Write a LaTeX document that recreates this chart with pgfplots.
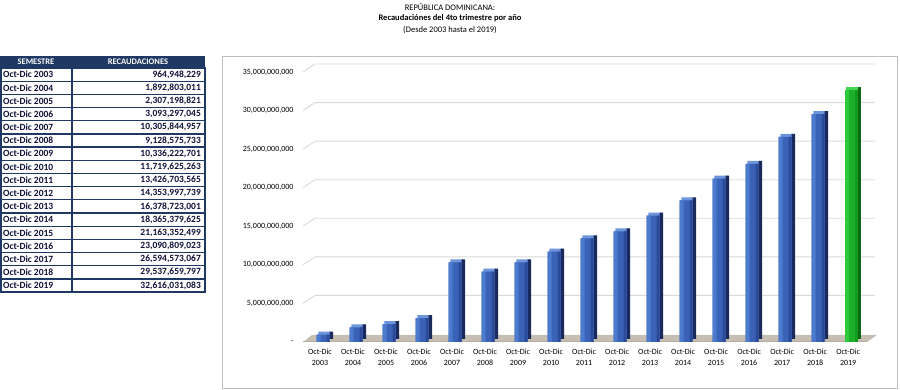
\documentclass[border=0pt]{standalone}
\usepackage{pgfplots}
\pgfplotsset{compat=1.18}
\usepackage{fontspec}
\setmainfont{Carlito}
\definecolor{navy}{HTML}{1F3864}
\definecolor{tabtxt}{HTML}{101038}
\definecolor{gridc}{HTML}{D9D9D9}
\definecolor{framec}{HTML}{BFBFBF}
\definecolor{bl}{HTML}{4C7BCE}
\definecolor{bm}{HTML}{3A63B8}
\definecolor{br}{HTML}{2B4A98}
\definecolor{bside}{HTML}{1B2A5C}
\definecolor{btop}{HTML}{6E94DC}
\definecolor{gl}{HTML}{2DC83C}
\definecolor{gm}{HTML}{1BB02A}
\definecolor{gr}{HTML}{139A20}
\definecolor{gside}{HTML}{0B6A12}
\definecolor{gtop}{HTML}{45D555}
\definecolor{floorl}{HTML}{B8AEA0}
\definecolor{floorr}{HTML}{D2CBC2}
\newcommand\trow[3]{%
  \pgfmathsetmacro\yt{322-(#1-1)*13.18}%
  \pgfmathsetmacro\yb{\yt-13.18}%
  \pgfmathsetmacro\ym{\yt-6.59}%
  \draw[navy, line width=1.3pt] (1pt,\yb pt) rectangle (72pt,\yt pt);
  \draw[navy, line width=1.3pt] (72pt,\yb pt) rectangle (205pt,\yt pt);
  \node[anchor=west, font=\fontsize{9.5}{11}\selectfont\bfseries, text=tabtxt, inner sep=0pt] at (3pt,\ym pt) {Oct-Dic #2};
  \node[anchor=east, font=\fontsize{9.5}{11}\selectfont\bfseries, text=tabtxt, inner sep=0pt] at (201pt,\ym pt) {#3};
}
\pgfplotstableread{
x y
0 964948229
1 1892803011
2 2307198821
3 3093297045
4 10305844957
5 9128575733
6 10336222701
7 11719625263
8 13426703565
9 14353997739
10 16378723001
11 18365379625
12 21163352499
13 23090809023
14 26594573067
15 29537659797
}\bluedata
\pgfplotstableread{
x y
16 32616031083
}\greendata
\begin{document}
\begin{tikzpicture}
\useasboundingbox (0pt,0pt) rectangle (900pt,390pt);
% title
\node[font=\fontsize{8.5}{10}\selectfont] at (450pt,383pt) {REPÚBLICA DOMINICANA:};
\node[font=\fontsize{8.5}{10}\selectfont\bfseries] at (450pt,372pt) {Recaudaciónes del 4to trimestre por año};
\node[font=\fontsize{8.5}{10}\selectfont] at (450pt,360pt) {(Desde 2003 hasta el 2019)};
% table
\fill[navy] (0pt,322pt) rectangle (205pt,334pt);
\node[font=\fontsize{8.5}{10}\selectfont\bfseries, text=white] at (36pt,328pt) {SEMESTRE};
\node[font=\fontsize{8.5}{10}\selectfont\bfseries, text=white] at (138pt,328pt) {RECAUDACIONES};
\trow{1}{2003}{964,948,229}
\trow{2}{2004}{1,892,803,011}
\trow{3}{2005}{2,307,198,821}
\trow{4}{2006}{3,093,297,045}
\trow{5}{2007}{10,305,844,957}
\trow{6}{2008}{9,128,575,733}
\trow{7}{2009}{10,336,222,701}
\trow{8}{2010}{11,719,625,263}
\trow{9}{2011}{13,426,703,565}
\trow{10}{2012}{14,353,997,739}
\trow{11}{2013}{16,378,723,001}
\trow{12}{2014}{18,365,379,625}
\trow{13}{2015}{21,163,352,499}
\trow{14}{2016}{23,090,809,023}
\trow{15}{2017}{26,594,573,067}
\trow{16}{2018}{29,537,659,797}
\trow{17}{2019}{32,616,031,083}
% chart frame
\draw[framec, line width=0.9pt] (222pt,2pt) rectangle (897pt,334pt);
\begin{axis}[
  at={(303pt,48pt)}, anchor=south west,
  scale only axis, width=560pt, height=270pt,
  xmin=-0.606, xmax=16.36, ymin=0, ymax=35e9,
  clip=false,
  axis line style={draw=none},
  major tick length=0pt,
  scaled y ticks=false,
  ytick={0,5e9,10e9,15e9,20e9,25e9,30e9,35e9},
  yticklabels={{-\hspace{5pt}},{5,000,000,000},{10,000,000,000},{15,000,000,000},{20,000,000,000},{25,000,000,000},{30,000,000,000},{35,000,000,000}},
  yticklabel style={font=\fontsize{8}{9}\selectfont, xshift=-6pt},
  xtick={0,...,16},
  xticklabels={{Oct-Dic\\2003},{Oct-Dic\\2004},{Oct-Dic\\2005},{Oct-Dic\\2006},{Oct-Dic\\2007},{Oct-Dic\\2008},{Oct-Dic\\2009},{Oct-Dic\\2010},{Oct-Dic\\2011},{Oct-Dic\\2012},{Oct-Dic\\2013},{Oct-Dic\\2014},{Oct-Dic\\2015},{Oct-Dic\\2016},{Oct-Dic\\2017},{Oct-Dic\\2018},{Oct-Dic\\2019}},
  xticklabel style={font=\fontsize{8}{11}\selectfont, align=center, xshift=-3pt, yshift=-3pt},
]
% back-wall grid lines
\pgfplotsinvokeforeach{5e9,10e9,15e9,20e9,25e9,30e9,35e9}{
  \draw[gridc, line width=0.9pt] (axis cs:-0.606,#1) -- ++(12pt,8pt) -- ++(560pt,0pt);
}
% floor
\fill[floorl!80!white] (axis cs:-0.606,0) -- (axis cs:16.48,0) -- ++(10pt,7pt) -- ([xshift=9pt,yshift=7pt]axis cs:-0.606,0) -- cycle;
\draw[floorl, line width=1pt] (axis cs:-0.606,0) -- (axis cs:16.48,0);
% top faces
\addplot[ybar, bar width=13pt, bar shift=1.75pt, fill=btop, draw=none, yshift=3pt] table[x=x,y=y] {\bluedata};
\addplot[ybar, bar width=13pt, bar shift=1.75pt, fill=gtop, draw=none, yshift=3pt] table[x=x,y=y] {\greendata};
% side faces
\addplot[ybar, bar width=3.5pt, bar shift=8.25pt, fill=bside, draw=none, yshift=3pt] table[x=x,y=y] {\bluedata};
\addplot[ybar, bar width=3.5pt, bar shift=8.25pt, fill=gside, draw=none, yshift=3pt] table[x=x,y=y] {\greendata};
% front faces (three strips for a light-to-dark look)
\addplot[ybar, bar width=13pt, bar shift=0pt, fill=bm, draw=none] table[x=x,y=y] {\bluedata};
\addplot[ybar, bar width=4pt, bar shift=-4.5pt, fill=bl, draw=none] table[x=x,y=y] {\bluedata};
\addplot[ybar, bar width=3pt, bar shift=5pt, fill=br, draw=none] table[x=x,y=y] {\bluedata};
\addplot[ybar, bar width=13pt, bar shift=0pt, fill=gm, draw=none] table[x=x,y=y] {\greendata};
\addplot[ybar, bar width=4pt, bar shift=-4.5pt, fill=gl, draw=none] table[x=x,y=y] {\greendata};
\addplot[ybar, bar width=3pt, bar shift=5pt, fill=gr, draw=none] table[x=x,y=y] {\greendata};
\end{axis}
\end{tikzpicture}
\end{document}
